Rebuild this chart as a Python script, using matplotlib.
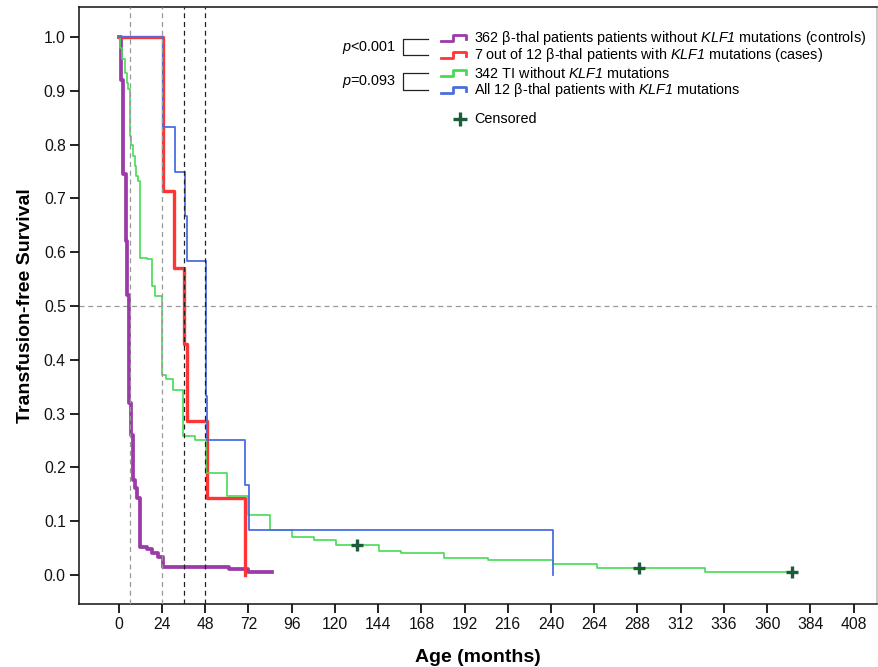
import matplotlib
matplotlib.use("Agg")
import matplotlib.pyplot as plt

plt.rcParams['font.family'] = ['Liberation Sans', 'DejaVu Sans']
plt.rcParams['mathtext.fontset'] = 'custom'
plt.rcParams['mathtext.rm'] = 'Liberation Sans'
plt.rcParams['mathtext.it'] = 'Liberation Sans:italic'
# sf slot used for italic gene names so that digits come out italic as well
plt.rcParams['mathtext.sf'] = 'Liberation Sans:italic'

# Kaplan-Meier curves (months, survival)
controls_t = [0, 1.0, 2.5, 3.9, 4.6, 5.7, 7.0, 8.0, 9.1, 10.1, 12.0, 15.4, 18.2, 21.9, 24.3, 61, 72, 85]
controls_s = [1.0, 0.92, 0.745, 0.62, 0.52, 0.32, 0.26, 0.177, 0.162, 0.143, 0.052, 0.048, 0.041,
              0.034, 0.0155, 0.011, 0.006, 0.006]

cases_t = [0, 24.3, 30.8, 36.0, 37.6, 48.8, 70.2]
cases_s = [1.0, 0.714, 0.571, 0.429, 0.286, 0.143, 0.0]

ti_t = [0, 0.8, 2.0, 3.3, 4.3, 5.2, 6.1, 7.0, 8.0, 8.9, 9.8, 10.8, 12.0, 15.4, 18.2, 20.1, 23.9,
        26.2, 30.2, 35.8, 42.4, 48.5, 60.0, 72.0, 84.2, 96.2, 108.3, 120.4, 144.5, 156.6, 180.7,
        204.9, 241.1, 265.3, 325.3, 373.6]
ti_s = [1.0, 0.98, 0.96, 0.934, 0.915, 0.903, 0.816, 0.80, 0.779, 0.76, 0.742, 0.732, 0.59, 0.587,
        0.537, 0.518, 0.372, 0.365, 0.343, 0.258, 0.25, 0.19, 0.147, 0.112, 0.084, 0.071, 0.065,
        0.056, 0.044, 0.040, 0.031, 0.028, 0.020, 0.0125, 0.005, 0.005]

all12_t = [0, 24.3, 31.2, 36.8, 37.6, 48.5, 49.2, 70.2, 72.1, 241.0]
all12_s = [1.0, 0.833, 0.75, 0.667, 0.583, 0.333, 0.25, 0.167, 0.083, 0.0]

censor_t = [132.4, 288.9, 373.6]
censor_s = [0.056, 0.0125, 0.005]

ref_light = [6, 24]
ref_dark = [36, 48]

x_ticks = list(range(0, 409, 24))
y_ticks = [i / 10 for i in range(11)]

labels = [r"362 β-thal patients patients without $\mathsf{KLF1}$ mutations (controls)",
          r"7 out of 12 β-thal patients with $\mathsf{KLF1}$ mutations (cases)",
          r"342 TI without $\mathsf{KLF1}$ mutations",
          r"All 12 β-thal patients with $\mathsf{KLF1}$ mutations"]

c_purple = '#9b3aa8'
c_red = '#ff3535'
c_green = '#45dc55'
c_blue = '#4a6ee0'
c_cens = '#1d5c3a'

fig = plt.figure(figsize=(8.79, 6.67), dpi=100)
ax = fig.add_axes([79 / 879, 1 - 604 / 667, 798 / 879, 597 / 667])

ax.step(controls_t, controls_s, where='post', color=c_purple, lw=2.7, zorder=3)
ax.step(cases_t, cases_s, where='post', color=c_red, lw=2.4, zorder=3)
ax.step(ti_t, ti_s, where='post', color=c_green, lw=1.2, zorder=4)
ax.step(all12_t, all12_s, where='post', color=c_blue, lw=1.3, zorder=5)
ax.plot(censor_t, censor_s, ls='none', marker='+', ms=9, mew=2.4, color=c_cens, zorder=6)

for x in ref_light:
    ax.axvline(x, color='#999999', ls=(0, (4, 3)), lw=0.9, zorder=7)
for x in ref_dark:
    ax.axvline(x, color='#222222', ls=(0, (4, 3)), lw=0.9, zorder=7)
ax.axhline(0.5, color='#999999', ls=(0, (4, 3)), lw=0.9, zorder=2)

ax.set_xlim(-22.1, 421)
ax.set_ylim(-0.054, 1.056)
ax.set_xticks(x_ticks)
ax.set_yticks(y_ticks)
ax.set_yticklabels([f"{v:.1f}" for v in y_ticks])
ax.tick_params(direction='out', length=6.5, width=1.3, labelsize=11.3, pad=3, colors='#111111')
for sp in ax.spines.values():
    sp.set_linewidth(1.1)
    sp.set_color('#111111')
ax.spines['right'].set_color('#bbbbbb')

ax.set_xlabel("Age (months)", fontsize=14, fontweight='bold', labelpad=12)
ax.set_ylabel("Transfusion-free Survival", fontsize=14, fontweight='bold', labelpad=7)


# custom legend, positions in axes fraction from pixel positions
def fx(px):
    return (px - 79) / 798


def fy(py):
    return (604 - py) / 597


colors = [c_purple, c_red, c_green, c_blue]
rows = [38, 55, 73, 90]
for lab, col, r in zip(labels, colors, rows):
    xs = [fx(441), fx(453), fx(453), fx(466), fx(466)]
    ys = [fy(r + 3), fy(r + 3), fy(r - 3), fy(r - 3), fy(r + 1)]
    ax.plot(xs, ys, color=col, lw=2.0, transform=ax.transAxes, clip_on=False, zorder=8)
    ax.text(fx(474), fy(r), lab, transform=ax.transAxes, fontsize=10.4, va='center', ha='left')

ax.plot([fx(460)], [fy(119)], marker='+', ms=10, mew=2.4, color=c_cens, transform=ax.transAxes)
ax.text(fx(474), fy(119), "Censored", transform=ax.transAxes, fontsize=10.4, va='center', ha='left')

for p_txt, top, bot in [(r"$\mathit{p}$<0.001", 39, 55), (r"$\mathit{p}$=0.093", 73, 90)]:
    ax.plot([fx(428), fx(403), fx(403), fx(428)], [fy(top), fy(top), fy(bot), fy(bot)],
            color='#222222', lw=0.9, transform=ax.transAxes)
    ax.text(fx(396), fy((top + bot) / 2), p_txt, transform=ax.transAxes, fontsize=10.4,
            va='center', ha='right')

fig.savefig("out.png", dpi=100)
